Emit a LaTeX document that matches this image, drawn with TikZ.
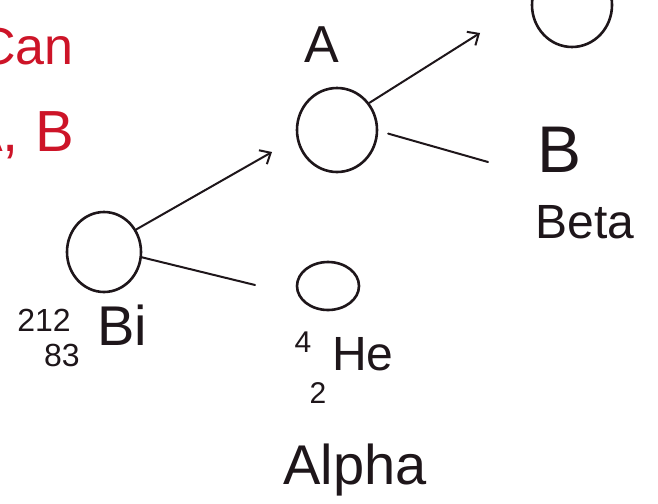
\documentclass[tikz,border=0pt]{standalone}
\usepackage{fontspec}
\setmainfont{Liberation Sans}
\usetikzlibrary{arrows.meta,shapes.geometric}
\tikzset{
  nucleus/.style={draw=ink, line width=2.6pt, ellipse, inner sep=0pt},
  link/.style={draw=ink, line width=2pt, line cap=round},
  emit/.style={link, -{Straight Barb[length=9pt,width=16pt,line width=2pt]}},
  hand/.style={text=ink, inner sep=0pt},
  note/.style={text=redink, inner sep=0pt}
}
\definecolor{ink}{RGB}{30,22,26}
\definecolor{redink}{RGB}{205,20,40}
\newcommand{\txtsz}[1]{\fontsize{#1}{#1}\selectfont}
\begin{document}
\begin{tikzpicture}[x=1pt,y=-1pt]
\useasboundingbox (0,0) rectangle (658,503);
\clip (0,0) rectangle (658,503);
\fill[white] (0,0) rectangle (658,503);

% side note in red, running off the left edge
\node[note, anchor=east] (can) at (74,47) {\txtsz{52}Can};
\node[note, anchor=east] (ab) at (74,135) {\txtsz{58}A, B};

% nuclei
\node[nucleus, minimum width=74pt, minimum height=80pt] (bi) at (104,252) {};
\node[nucleus, minimum width=80pt, minimum height=84pt] (a) at (337,130) {};
\node[nucleus, minimum width=62pt, minimum height=48pt] (he) at (328,286) {};
\node[nucleus, minimum width=80pt, minimum height=84pt] (d) at (572,5) {};

% labels
\node[hand] (bisym) at (122,325) {\txtsz{56}Bi};
\node[hand] (bimass) at (44,320) {\txtsz{32}212};
\node[hand] (binum) at (62,355) {\txtsz{32}83};
\node[hand] (alabel) at (322,45) {\txtsz{52}A};
\node[hand] (hesym) at (363,354) {\txtsz{48}He};
\node[hand] (hemass) at (303,342) {\txtsz{30}4};
\node[hand] (henum) at (318,393) {\txtsz{30}2};
\node[hand] (alpha) at (355,470) {\txtsz{56}Alpha};
\node[hand] (beta) at (560,150) {\txtsz{66}B};
\node[hand] (betaname) at (585,222) {\txtsz{48}Beta};

% free ends of the connectors
\coordinate (bitip) at (272,152);
\coordinate (heend) at (255,285);
\coordinate (dtip) at (480,33);
\coordinate (betaend) at (488,162);

% decay paths
\draw[emit] (bi.35) -- (bitip);
\draw[link] (bi.-8) -- (heend);
\draw[emit] (a.40) -- (dtip);
\draw[link] ([xshift=10pt]a.-5) -- (betaend);
\end{tikzpicture}
\end{document}
